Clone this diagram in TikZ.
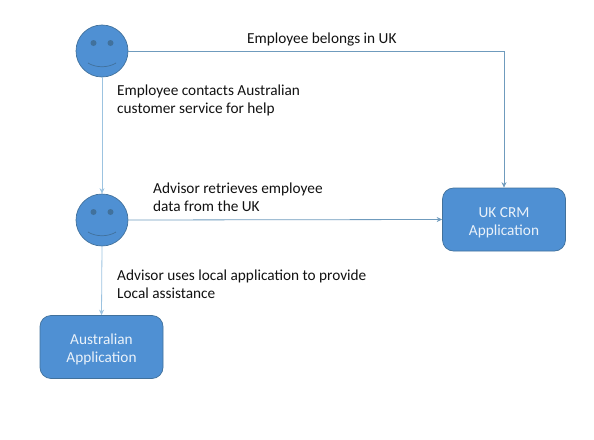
\documentclass[tikz,border=0pt]{standalone}
\usepackage{fontspec}
\setmainfont{Carlito}
\usepackage{tikz}
\usetikzlibrary{positioning,arrows.meta,calc}
\definecolor{appblue}{HTML}{4F90D3}
\definecolor{appedge}{HTML}{41719C}
\definecolor{linklight}{HTML}{9CC3E0}
\definecolor{linkdark}{HTML}{6F9BBD}
\definecolor{textdark}{HTML}{111111}

\begin{document}
\begin{tikzpicture}[
    x=1pt,
    y=-1pt,
    >={Stealth[length=5.5pt,width=5pt]},
    font=\fontsize{15.3}{18}\selectfont,
    face/.style={draw=appedge, line width=0.7pt, circle, fill=appblue, minimum size=52pt, inner sep=0pt},
    eye/.style={fill=appedge, draw=none},
    smile/.style={draw=appedge, line width=0.7pt},
    appbox/.style={draw=appedge, line width=0.7pt, rounded corners=11pt, fill=appblue, align=center, minimum width=123pt, minimum height=63pt, text height=33.5pt, text=white!88!appblue},
    note/.style={align=left, anchor=west, inner sep=0pt, text=textdark},
    softlink/.style={->, linklight, line width=0.8pt},
    hardlink/.style={->, linkdark, line width=0.8pt}
]
\useasboundingbox (0,0) rectangle (594,439);

% --- Faces ---
\node[face] (employee) at (102,51) {};
\node[face] (advisor)  at (102,220) {};

\foreach \who in {employee,advisor} {
    \fill[eye] ($(\who)+(-8.5,-8)$) circle (3pt);
    \fill[eye] ($(\who)+(8.5,-8)$) circle (3pt);
    \draw[smile] ($(\who)+(-14,12)$) .. controls ($(\who)+(-6,17)$) and ($(\who)+(6,17)$) .. ($(\who)+(14,12)$);
}

% --- Applications ---
\node[appbox] (ukcrm)      at (504,219.5) {UK CRM\\Application};
\node[appbox] (australian) at (101.5,347) {Australian\\Application};

% --- Links ---
\draw[hardlink] (employee.east) -| (ukcrm.north);
\draw[softlink] (employee.south) -- (advisor.north);
\draw[hardlink] (advisor.east) -- (ukcrm.west);
\draw[softlink] (advisor.south) -- (australian.north);

% --- Labels ---
\node[note] (belongs)  at (247,40)  {Employee belongs in UK};
\node[note] (contacts) at (117,100) {Employee contacts Australian\\customer service for help};
\node[note] (retrieve) at (153,197) {Advisor retrieves employee\\data from the UK};
\node[note] (assist)   at (117,284) {Advisor uses local application to provide\\Local assistance};

\end{tikzpicture}
\end{document}
